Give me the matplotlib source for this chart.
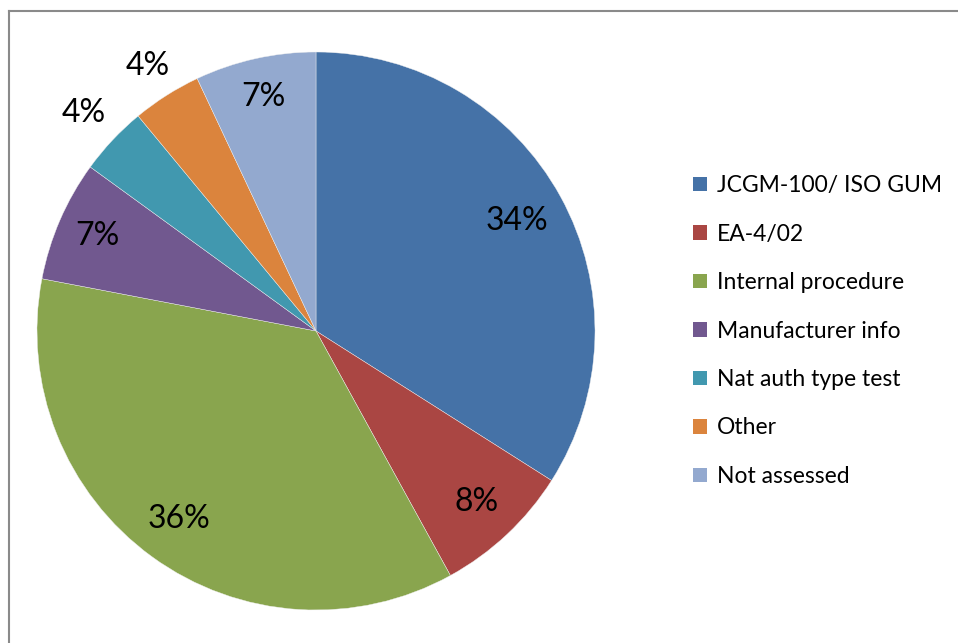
import matplotlib
matplotlib.use("Agg")
import matplotlib.pyplot as plt
from matplotlib.lines import Line2D
from matplotlib.patches import Patch
import numpy as np

categories = ["JCGM-100/ ISO GUM", "EA-4/02", "Internal procedure", "Manufacturer info",
              "Nat auth type test", "Other", "Not assessed"]
shares = [34, 8, 36, 7, 4, 4, 7]
colors = ["#4572A7", "#AA4643", "#89A54E", "#71588F", "#4198AF", "#DB843D", "#93A9CF"]
# radial position of each percentage label (fraction of the radius)
label_radius = [0.82, 0.84, 0.835, 0.855, 1.14, 1.125, 0.86]

plt.rcParams["font.family"] = ["Lato", "DejaVu Sans"]

W, H = 958, 643
fig = plt.figure(figsize=(W / 100, H / 100), dpi=100)

cx, cy, r = 316, 331, 279
ax = fig.add_axes([(cx - r) / W, (H - cy - r) / H, 2 * r / W, 2 * r / H])
wedges, _ = ax.pie(shares, colors=colors, startangle=90, counterclock=False,
                   radius=1.0, wedgeprops=dict(linewidth=0.3, edgecolor="#f0f0f0"))
ax.set_xlim(-1, 1)
ax.set_ylim(-1, 1)
ax.set_aspect("equal")
ax.axis("off")

for w, val, lr in zip(wedges, shares, label_radius):
    ang = np.deg2rad((w.theta1 + w.theta2) / 2)
    ax.text(lr * np.cos(ang), lr * np.sin(ang), f"{val}%", ha="center", va="center",
            fontsize=23, color="black", clip_on=False)

handles = [Patch(facecolor=c, edgecolor="none") for c in colors]
fig.legend(handles, categories, loc="center left", bbox_to_anchor=(684 / W, (H - 331) / H),
           frameon=False, fontsize=16.5, handlelength=0.6, handleheight=0.6,
           handletextpad=0.45, labelspacing=1.2, borderaxespad=0)

# chart frame
fig.add_artist(Line2D([9 / W, 9 / W], [0, 1 - 11 / H], color="#8a8a8a", lw=1.5,
                      transform=fig.transFigure))
fig.add_artist(Line2D([9 / W, 1], [1 - 11 / H, 1 - 11 / H], color="#8a8a8a", lw=1.5,
                      transform=fig.transFigure))

fig.savefig("out.png", dpi=100)
